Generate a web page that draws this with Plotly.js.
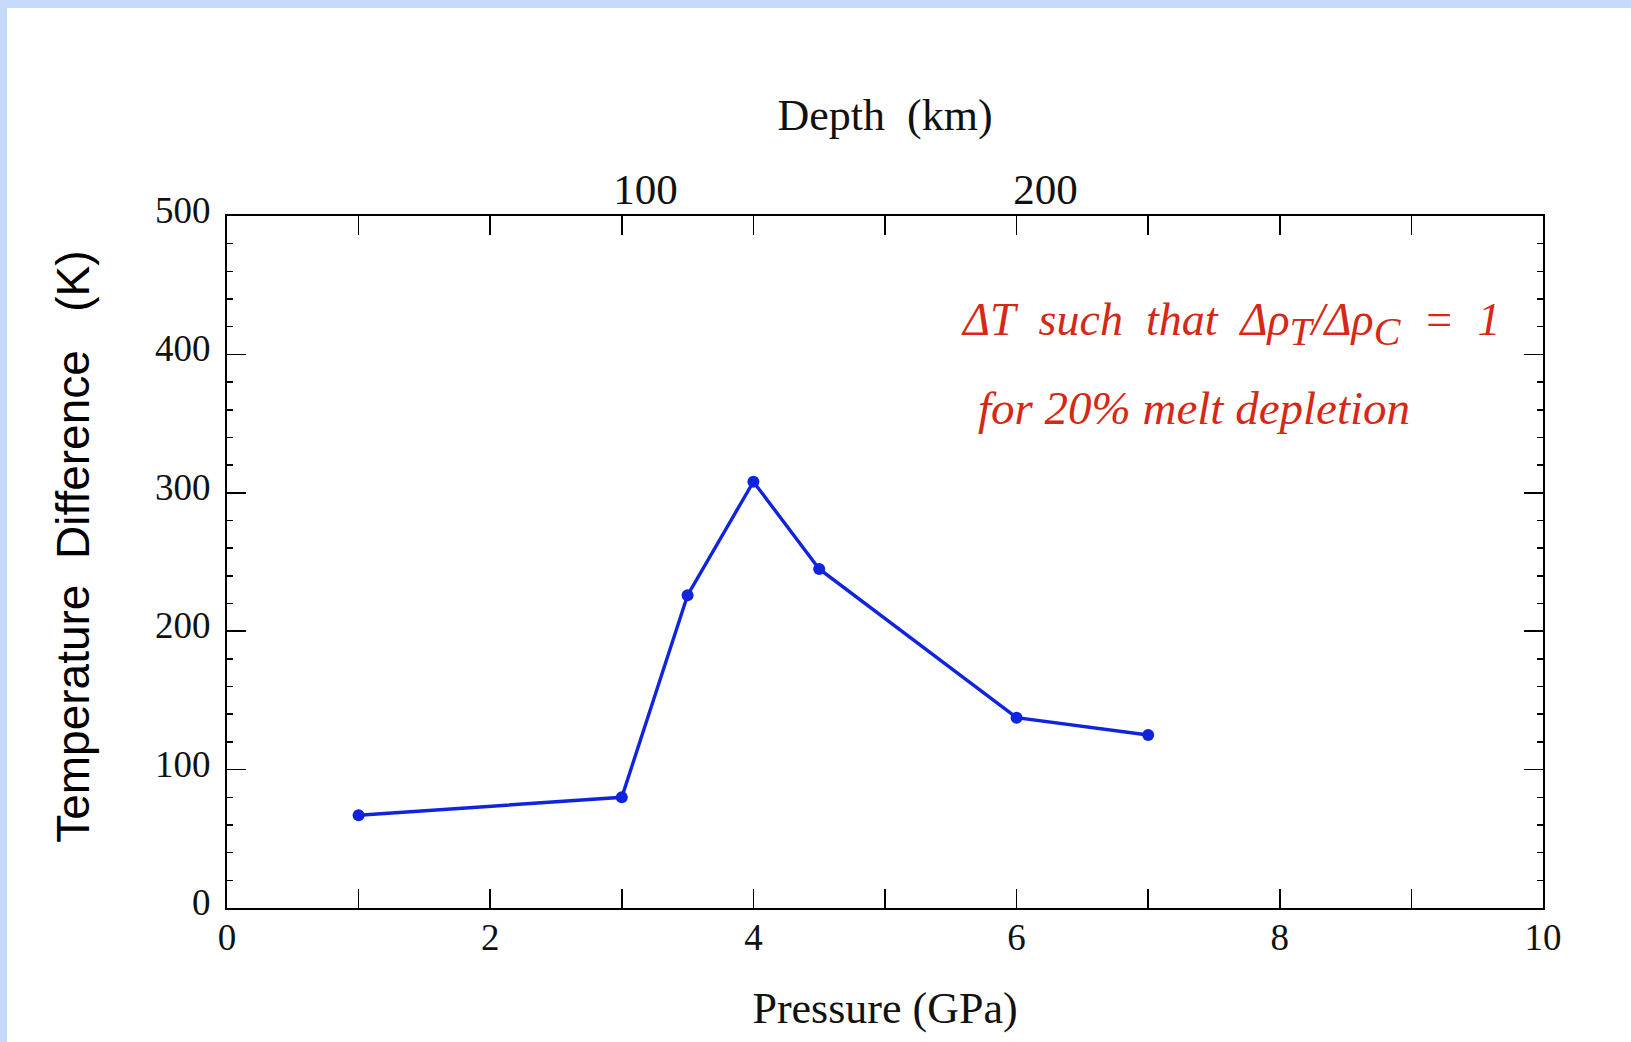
<!DOCTYPE html>
<html>
<head>
<meta charset="utf-8">
<script src="https://cdn.plot.ly/plotly-3.0.1.min.js"></script>
<style>
  html, body { margin: 0; padding: 0; background: rgb(197,217,252); width: 1631px; height: 1042px; overflow: hidden; }
  #chart { position: absolute; left: 7px; top: 8px; width: 1624px; height: 1034px; background: #fff; }
</style>
</head>
<body>
<div id="chart"></div>
<script>
// Data
const pressureGPa = [1, 3, 3.5, 4, 4.5, 6, 7];
const tempDiffK   = [67, 80, 226, 308, 245, 137.5, 125];

// Tick labels
const xTickVals  = [0, 1, 2, 3, 4, 5, 6, 7, 8, 9, 10];
const xTickText  = ['0', '', '2', '', '4', '', '6', '', '8', '', '10'];
const depthTicks = [100, 200];
const depthTickText = ['100', '200'];

// depth axis calibration: 100 km at 3.18 GPa, 200 km at 6.22 GPa
const kmPerGPa = 100 / (6.22 - 3.18);
const depthAt0 = 100 - 3.18 * kmPerGPa;
const depthRange = [depthAt0, depthAt0 + 10 * kmPerGPa];

const serif = 'Liberation Serif, Times New Roman, serif';
const sans = 'Liberation Sans, Arial, sans-serif';
const blue = 'rgb(16,36,222)';
const red = 'rgb(214,40,22)';

const trace = {
  x: pressureGPa, y: tempDiffK, type: 'scatter', mode: 'lines+markers',
  line: { color: blue, width: 3.4 },
  marker: { color: blue, size: 12, symbol: 'circle' },
  xaxis: 'x', yaxis: 'y', showlegend: false, hoverinfo: 'skip'
};
const dummyTop = {
  x: depthRange, y: [0, 0], type: 'scatter', mode: 'lines',
  line: { width: 0 }, xaxis: 'x2', yaxis: 'y', showlegend: false, hoverinfo: 'skip'
};

const layout = {
  width: 1624, height: 1034,
  margin: { l: 220, r: 88, t: 208, b: 134 },
  paper_bgcolor: '#ffffff', plot_bgcolor: '#ffffff',
  showlegend: false,
  xaxis: {
    range: [0, 10], tickvals: xTickVals, ticktext: xTickText,
    ticks: 'inside', ticklen: 19, tickwidth: 1.5, tickcolor: '#000',
    showline: true, linecolor: '#000', linewidth: 2, mirror: 'ticks',
    showgrid: false, zeroline: false,
    tickfont: { family: serif, size: 37, color: '#111' },
    ticklabelstandoff: -4,
    title: { text: 'Pressure (GPa)', font: { family: serif, size: 44, color: '#111' }, standoff: 35 },
    automargin: false
  },
  xaxis2: {
    overlaying: 'x', side: 'top', range: depthRange,
    tickvals: depthTicks, ticktext: depthTickText, ticks: '',
    showline: false, showgrid: false, zeroline: false,
    tickfont: { family: serif, size: 43, color: '#111' },
    ticklabelstandoff: 2,
    title: { text: 'Depth\u00a0\u00a0(km)', font: { family: serif, size: 44, color: '#111' }, standoff: 22 },
    automargin: false
  },
  yaxis: {
    range: [0, 500], dtick: 100, tick0: 0,
    ticks: 'inside', ticklen: 19, tickwidth: 1.5, tickcolor: '#000',
    minor: { dtick: 20, ticks: 'inside', ticklen: 6, tickwidth: 1.5, tickcolor: '#000', showgrid: false },
    showline: true, linecolor: '#000', linewidth: 2, mirror: 'ticks',
    showgrid: false, zeroline: false,
    tickfont: { family: serif, size: 37, color: '#111' },
    ticklabelstandoff: 7,
    ticklabelshift: -6,
    automargin: false
  },
  annotations: [
    {
      xref: 'paper', yref: 'paper', x: -0.117, y: 0.522, xanchor: 'center', yanchor: 'middle',
      textangle: -90,
      text: 'Temperature\u00a0\u00a0Difference\u00a0\u00a0\u00a0(K)',
      showarrow: false, font: { family: sans, size: 46, color: '#000' }
    },
    {
      xref: 'x', yref: 'y', x: 5.56, y: 422, xanchor: 'left', yanchor: 'middle',
      text: '\u0394T\u00a0\u00a0such\u00a0\u00a0that\u00a0\u00a0\u0394\u03c1<sub><span style="font-size:40px">T</span></sub>/\u0394\u03c1<sub><span style="font-size:40px">C</span></sub>\u00a0\u00a0=\u00a0\u00a01',
      showarrow: false, font: { family: serif, size: 46, color: red, style: 'italic' }
    },
    {
      xref: 'x', yref: 'y', x: 5.69, y: 361, xanchor: 'left', yanchor: 'middle',
      text: 'for 20% melt depletion',
      showarrow: false, font: { family: serif, size: 47, color: red, style: 'italic' }
    }
  ]
};

Plotly.newPlot('chart', [dummyTop, trace], layout, { displayModeBar: false, staticPlot: true });
</script>
</body>
</html>
